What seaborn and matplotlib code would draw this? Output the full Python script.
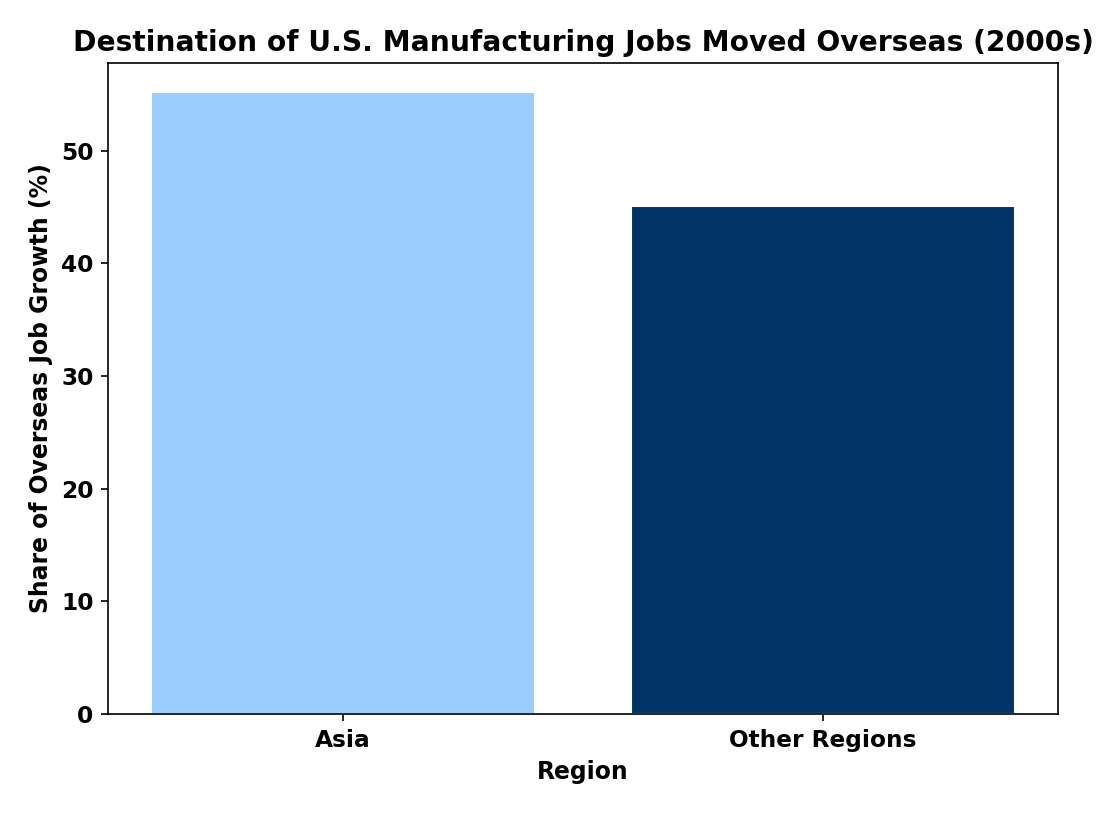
import matplotlib
matplotlib.use("Agg")
import matplotlib.pyplot as plt
import seaborn as sns
import pandas as pd

# Dati
regions = ["Asia", "Other Regions"]
shares = [55.2, 45.1]
bar_colors = ["#99CCFF", "#003366"]

df = pd.DataFrame({"Region": regions, "Share": shares})

sns.set_style("ticks")
plt.rcParams["font.family"] = ["DejaVu Sans"]
plt.rcParams["font.weight"] = "bold"
for k in ["text.color", "axes.labelcolor", "xtick.color", "ytick.color", "axes.edgecolor"]:
    plt.rcParams[k] = "black"

fig, ax = plt.subplots(figsize=(7.44, 5.42), dpi=150)
sns.barplot(data=df, x="Region", y="Share", hue="Region", palette=bar_colors,
            saturation=1, width=0.8, legend=False, ax=ax)

ax.set_xlim(-0.49, 1.49)
ax.set_ylim(0, 57.8)
ax.set_title("Destination of U.S. Manufacturing Jobs Moved Overseas (2000s)",
             fontsize=13.5, fontweight="bold")
ax.set_xlabel("Region", fontsize=11.3, fontweight="bold")
ax.set_ylabel("Share of Overseas Job Growth (%)", fontsize=11.3, fontweight="bold")
ax.tick_params(labelsize=11.2, color="black")
for lbl in ax.get_xticklabels() + ax.get_yticklabels():
    lbl.set_fontweight("bold")
for s in ax.spines.values():
    s.set_visible(True)
    s.set_color("black")

fig.subplots_adjust(left=0.0968, right=0.948, top=0.9225, bottom=0.1218)
fig.savefig("out.png")
